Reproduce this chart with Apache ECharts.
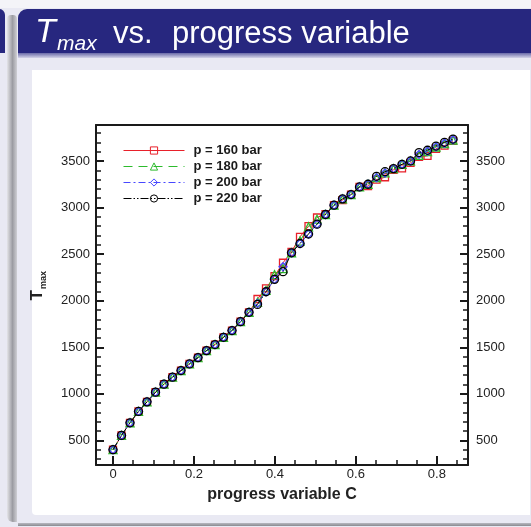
<!DOCTYPE html>
<html><head><meta charset="utf-8">
<script src="https://cdn.jsdelivr.net/npm/echarts@6/dist/echarts.min.js"></script>
<style>html,body{margin:0;padding:0;background:#fff}#c{width:531px;height:527px}</style>
</head><body><div id="c"></div>
<script>
// ---- data ----
const progressC = [0, 0.021, 0.042, 0.063, 0.084, 0.105, 0.126, 0.147, 0.168, 0.189, 0.21, 0.231, 0.252, 0.273, 0.294, 0.315, 0.336, 0.357, 0.378, 0.399, 0.42, 0.441, 0.462, 0.483, 0.504, 0.525, 0.546, 0.567, 0.588, 0.609, 0.63, 0.651, 0.672, 0.693, 0.714, 0.735, 0.756, 0.777, 0.798, 0.819, 0.84];
const p160 = [400, 554, 689, 811, 914, 1018, 1104, 1179, 1250, 1321, 1389, 1464, 1529, 1607, 1679, 1775, 1875, 2018, 2132, 2264, 2407, 2525, 2686, 2800, 2893, 2930, 3025, 3080, 3139, 3221, 3230, 3300, 3325, 3405, 3420, 3480, 3545, 3555, 3630, 3665, 3715];
const p180 = [400, 554, 689, 811, 914, 1018, 1104, 1179, 1250, 1321, 1389, 1464, 1529, 1607, 1679, 1775, 1875, 1985, 2110, 2280, 2345, 2514, 2640, 2793, 2875, 2925, 3025, 3093, 3139, 3221, 3250, 3321, 3371, 3418, 3464, 3500, 3560, 3600, 3650, 3686, 3725];
const p200 = [400, 554, 689, 811, 914, 1018, 1104, 1179, 1250, 1321, 1389, 1464, 1529, 1607, 1679, 1775, 1875, 1971, 2096, 2229, 2364, 2514, 2614, 2716, 2821, 2925, 3025, 3093, 3139, 3221, 3250, 3321, 3371, 3418, 3464, 3500, 3570, 3605, 3652, 3690, 3728];
const p220 = [400, 554, 689, 811, 914, 1018, 1104, 1179, 1250, 1321, 1389, 1464, 1529, 1607, 1679, 1775, 1875, 1960, 2096, 2229, 2311, 2514, 2614, 2716, 2821, 2925, 3025, 3093, 3139, 3221, 3250, 3335, 3385, 3418, 3464, 3500, 3590, 3615, 3660, 3700, 3735];
const seriesNames = ['p = 160 bar', 'p = 180 bar', 'p = 200 bar', 'p = 220 bar'];
const xTicks = [0, 0.2, 0.4, 0.6, 0.8];
const xTickLabels = ['0', '0.2', '0.4', '0.6', '0.8'];
const xMinorTicks = [0.05, 0.1, 0.15, 0.25, 0.3, 0.35, 0.45, 0.5, 0.55, 0.65, 0.7, 0.75, 0.85];
const yTicks = [500, 1000, 1500, 2000, 2500, 3000, 3500];
const yTickLabels = ['500', '1000', '1500', '2000', '2500', '3000', '3500'];
const yMinorTicks = [300, 400, 600, 700, 800, 900, 1100, 1200, 1300, 1400, 1600, 1700, 1800, 1900, 2100, 2200, 2300, 2400, 2600, 2700, 2800, 2900, 3100, 3200, 3300, 3400, 3600, 3700, 3800];
const xRange = [-0.042, 0.877];
const yRange = [236, 3886];

// ---- styling ----
const FONT = 'Liberation Sans, Arial, Helvetica, sans-serif';
const INK = '#1a1a1a';
const colors = ['#e8202a', '#2dbb2d', '#4848ff', '#000000'];
const symbols = ['rect', 'triangle', 'diamond', 'circle'];
const symbolSizes = [7, 8, 8, 8];
const dashes = ['solid', [9, 6], [7, 3, 2, 3], [8, 2, 1.5, 2, 1.5, 2]];
const yData = [p160, p180, p200, p220];

function pairs(ys) { return progressC.map((x, i) => [x, ys[i]]); }

const series = yData.map((ys, k) => ({
  name: seriesNames[k],
  type: 'line',
  data: pairs(ys),
  symbol: symbols[k],
  symbolSize: symbolSizes[k],
  showAllSymbol: true,
  lineStyle: { color: colors[k], width: 1, type: dashes[k] },
  itemStyle: { color: 'rgba(0,0,0,0)', borderColor: colors[k], borderWidth: 1.3 },
  emphasis: { disabled: true },
  animation: false,
  z: 2 + k
}));

function xAxisBase(extra) {
  return Object.assign({
    type: 'value', min: xRange[0], max: xRange[1], splitLine: { show: false },
    axisLine: { show: false, onZero: false }, axisTick: { show: false }, axisLabel: { show: false }
  }, extra);
}
function yAxisBase(extra) {
  return Object.assign({
    type: 'value', min: yRange[0], max: yRange[1], splitLine: { show: false },
    axisLine: { show: false, onZero: false }, axisTick: { show: false }, axisLabel: { show: false }
  }, extra);
}
function yLabel(v) { const i = yTicks.indexOf(v); return i >= 0 ? yTickLabels[i] : ''; }
function xLabel(v) { const i = xTicks.indexOf(v); return i >= 0 ? xTickLabels[i] : ''; }
const lineStyleAxis = { color: INK, width: 2 };
const labelStyle = { color: '#222', fontSize: 13, fontFamily: FONT };

const option = {
  backgroundColor: 'transparent',
  animation: false,
  grid: { left: 96, right: 63, top: 125, bottom: 62, containLabel: false },
  legend: {
    orient: 'vertical', left: 123, top: 144, padding: 0,
    itemWidth: 61, itemHeight: 9, itemGap: 3,
    data: seriesNames,
    lineStyle: { width: 1 },
    itemStyle: { borderWidth: 1 },
    textStyle: { fontWeight: 'bold', fontSize: 13, color: INK, fontFamily: FONT, padding: [0, 0, 0, 4] },
    selectedMode: false
  },
  xAxis: [
    xAxisBase({
      position: 'bottom',
      axisLine: { show: true, onZero: false, lineStyle: lineStyleAxis },
      axisTick: { show: true, inside: true, length: 9, customValues: xTicks, lineStyle: { color: INK, width: 2 } },
      axisLabel: Object.assign({ show: true, margin: 3, customValues: xTicks, formatter: xLabel }, labelStyle),
      name: 'progress variable C', nameLocation: 'middle', nameGap: 22,
      nameTextStyle: { fontWeight: 'bold', fontSize: 16, color: '#222', fontFamily: FONT }
    }),
    xAxisBase({
      position: 'bottom',
      axisTick: { show: true, inside: true, length: 5, customValues: xMinorTicks, lineStyle: { color: INK, width: 1.5 } }
    }),
    xAxisBase({
      position: 'top',
      axisLine: { show: true, onZero: false, lineStyle: lineStyleAxis }
    })
  ],
  yAxis: [
    yAxisBase({
      position: 'left',
      axisLine: { show: true, onZero: false, lineStyle: lineStyleAxis },
      axisTick: { show: true, inside: true, length: 8, customValues: yTicks, lineStyle: { color: INK, width: 2 } },
      axisLabel: Object.assign({ show: true, margin: 6, customValues: yTicks, formatter: yLabel }, labelStyle)
    }),
    yAxisBase({
      position: 'left',
      axisTick: { show: true, inside: true, length: 5, customValues: yMinorTicks, lineStyle: { color: INK, width: 1.5 } }
    }),
    yAxisBase({
      position: 'right',
      axisLine: { show: true, onZero: false, lineStyle: lineStyleAxis },
      axisTick: { show: true, inside: true, length: 8, customValues: yTicks, lineStyle: { color: INK, width: 2 } },
      axisLabel: Object.assign({ show: true, margin: 8, customValues: yTicks, formatter: yLabel }, labelStyle)
    }),
    yAxisBase({
      position: 'right',
      axisTick: { show: true, inside: true, length: 5, customValues: yMinorTicks, lineStyle: { color: INK, width: 1.5 } }
    })
  ],
  series: series,
  graphic: [
    // slide background
    { type: 'rect', z: -100, silent: true, shape: { x: 0, y: 0, width: 531, height: 527 }, style: { fill: '#e9e9f3' } },
    { type: 'rect', z: -99, silent: true, shape: { x: 0, y: 0, width: 531, height: 8 }, style: { fill: '#f4f4f8' } },
    // previous slide stub
    { type: 'rect', z: -98, silent: true, shape: { x: -12, y: 9, width: 17, height: 44, r: [0, 6, 0, 0] }, style: { fill: '#27277f' } },
    // gray scroll bar
    { type: 'rect', z: -97, silent: true, shape: { x: 7, y: 15, width: 10, height: 507, r: [4, 4, 0, 6] },
      style: { fill: new echarts.graphic.LinearGradient(0, 0, 1, 0, [
        { offset: 0, color: '#e4e4e8' }, { offset: 0.55, color: '#9c9ca2' }, { offset: 1, color: '#cfcfd4' }]) } },
    // header bar
    { type: 'rect', z: -96, silent: true, shape: { x: 18, y: 9, width: 520, height: 44, r: [9, 0, 0, 0] }, style: { fill: '#27277f' } },
    { type: 'rect', z: -95, silent: true, shape: { x: 18, y: 53, width: 513, height: 5 },
      style: { fill: new echarts.graphic.LinearGradient(0, 0, 0, 1, [
        { offset: 0, color: '#6a6aa8' }, { offset: 1, color: '#d4d4e8' }]) } },
    // white panel
    { type: 'rect', z: -94, silent: true, shape: { x: 32, y: 70, width: 498, height: 445, r: [0, 0, 0, 4] }, style: { fill: '#ffffff' } },
    // bottom shadow
    { type: 'rect', z: -93, silent: true, shape: { x: 18, y: 523, width: 513, height: 3 },
      style: { fill: new echarts.graphic.LinearGradient(0, 0, 0, 1, [
        { offset: 0, color: '#b8b8c0' }, { offset: 1, color: '#8a8a90' }]) } },
    // slide title
    { type: 'text', z: 10, silent: true, x: 35, y: 33,
      style: { text: 'T', fill: '#ffffff', font: 'italic 34px ' + FONT, verticalAlign: 'middle', align: 'left' } },
    { type: 'text', z: 10, silent: true, x: 57, y: 44,
      style: { text: 'max', fill: '#ffffff', font: 'italic 21px ' + FONT, verticalAlign: 'middle', align: 'left' } },
    { type: 'text', z: 10, silent: true, x: 113, y: 34,
      style: { text: 'vs.', fill: '#ffffff', font: '31px ' + FONT, verticalAlign: 'middle', align: 'left' } },
    { type: 'text', z: 10, silent: true, x: 172, y: 34,
      style: { text: 'progress variable', fill: '#ffffff', font: '31px ' + FONT, verticalAlign: 'middle', align: 'left' } },
    // y-axis title T_max (rotated)
    { type: 'group', z: 10, silent: true, x: 46, y: 290, rotation: Math.PI / 2,
      children: [
        { type: 'text', style: { text: 'T', x: 0, y: 0, fill: '#222', font: 'bold 17px ' + FONT, align: 'right', verticalAlign: 'bottom' } },
        { type: 'text', style: { text: 'max', x: 1, y: 2, fill: '#222', font: 'bold 9px ' + FONT, align: 'left', verticalAlign: 'bottom' } }
      ] }
  ]
};

const chart = echarts.init(document.getElementById('c'), null, { renderer: 'canvas' });
chart.setOption(option);
</script>
</body></html>
